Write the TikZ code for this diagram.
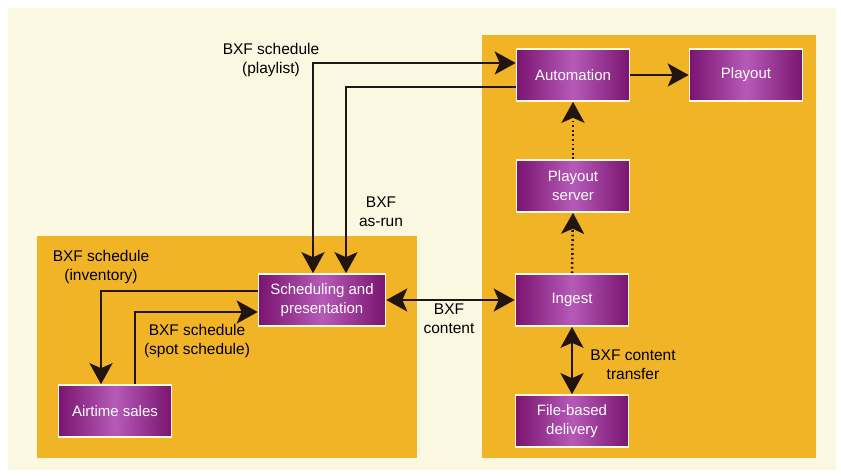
\documentclass[tikz,border=0pt]{standalone}
\usepackage{fontspec}
\setmainfont{Liberation Sans}
\usetikzlibrary{arrows.meta}
\definecolor{bgc}{HTML}{FBF8E2}
\definecolor{panel}{HTML}{F2B427}
\definecolor{pdark}{HTML}{7A1470}
\definecolor{plight}{HTML}{B65AB8}
\definecolor{ink}{HTML}{221410}
\begin{document}
\begin{tikzpicture}[x=1pt,y=-1pt,
  box/.style={draw=white!85!yellow, line width=1.6pt, minimum width=113pt, minimum height=52pt,
    left color=pdark, right color=pdark, middle color=plight, text=white, align=center,
    font=\fontsize{15}{19}\selectfont, inner sep=0pt},
  lbl/.style={align=center, font=\fontsize{15.5}{19}\selectfont, text=black, inner sep=1pt},
  conn/.style={line width=2.5pt, draw=ink, arrows={-Stealth[length=21pt,width=23pt,inset=5pt]}},
  dconn/.style={line width=2.5pt, draw=ink, arrows={Stealth[length=21pt,width=23pt,inset=5pt]-Stealth[length=21pt,width=23pt,inset=5pt]}},
  dotconn/.style={line width=2.5pt, draw=ink, dash pattern=on 1.8pt off 2.8pt, arrows={-Stealth[length=21pt,width=23pt,inset=5pt]}}]
\useasboundingbox (0,0) rectangle (841,475);
\fill[white] (0,0) rectangle (841,475);
\fill[bgc] (8,8) rectangle (836,470);
% panels
\fill[panel] (37,236) rectangle (417,458);
\fill[panel] (482,35) rectangle (816,458);
% boxes
\node[box] (auto) at (573,75) {Automation};
\node[box] (playout) at (746,75) {Playout};
\node[box] (pserver) at (573,186) {Playout\\server};
\node[box] (ingest) at (572,300) {Ingest};
\node[box] (file) at (572,421) {File-based\\delivery};
\node[box, minimum width=127pt] (sched) at (322,300) {Scheduling and\\presentation};
\node[box] (air) at (115,411) {Airtime sales};
% connectors
\draw[dconn] ([xshift=-9pt]sched.north) |- ([yshift=12pt]auto.west);
\draw[conn] ([yshift=-12pt]auto.west) -| ([xshift=24pt]sched.north);
\draw[conn] ([yshift=9pt]sched.west) -| ([xshift=-14pt]air.north);
\draw[conn] ([xshift=20pt]air.north) |- ([yshift=-12pt]sched.west);
\draw[dconn] (sched.east) -- (ingest.west);
\draw[dotconn] (ingest.north) -- (pserver.south);
\draw[dotconn] (pserver.north) -- (auto.south);
\draw[conn] (auto.east) -- (playout.west);
\draw[dconn] (ingest.south) -- (file.north);
% labels
\node[lbl] (l1) at (271,60) {BXF schedule\\(playlist)};
\node[lbl] (l2) at (381,212) {BXF\\as-run};
\node[lbl] (l3) at (101,267) {BXF schedule\\(inventory)};
\node[lbl] (l4) at (197,341) {BXF schedule\\(spot schedule)};
\node[lbl] (l5) at (449,319) {BXF\\content};
\node[lbl] (l6) at (633,365) {BXF content\\transfer};
\end{tikzpicture}
\end{document}
